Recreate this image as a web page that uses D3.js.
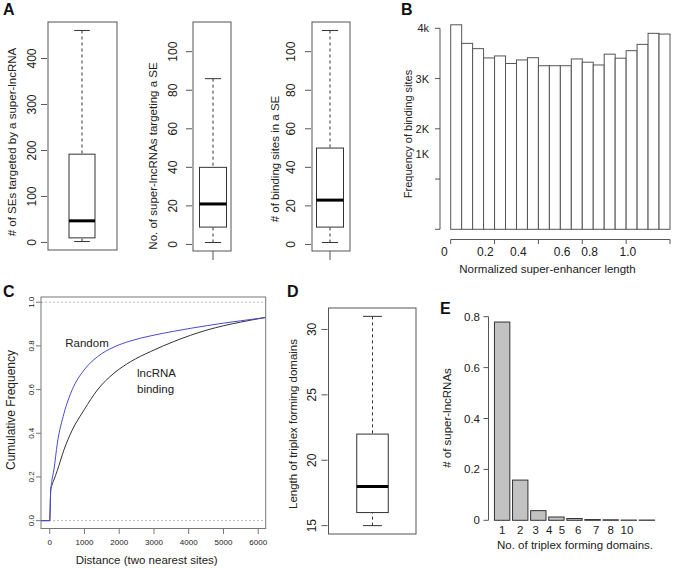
<!DOCTYPE html>
<html>
<head>
<meta charset="utf-8">
<script src="https://cdn.jsdelivr.net/npm/d3@7"></script>
<style>
body { margin: 0; background: #fff; }
text { font-family: "Liberation Sans", Arial, sans-serif; fill: #222; }
</style>
</head>
<body>
<div id="fig"></div>
<script>
// ---- panel A : box stats [low whisker, q1, median, q3, high whisker]
var boxSEs = [2, 10, 47, 192, 461];
var boxLncs = [1, 9, 21, 40, 86];
var boxSites = [1, 9, 23, 50, 111];
var ticksA1 = [0, 100, 200, 300, 400];
var ticksA23 = [0, 20, 40, 60, 80, 100];

// ---- panel B : histogram of binding sites
var histB = [4070, 3700, 3595, 3410, 3450, 3300, 3370, 3415, 3255, 3255,
             3255, 3390, 3325, 3270, 3485, 3405, 3555, 3680, 3900, 3885];
var binWidthB = 0.06;
var ticksBy = [0, 1000, 2000, 3000, 4000];
var labelsBy = ["1K", "2K", "3K", "4k"];
var labelsByAt = [1500, 2000, 3000, 4000];
var ticksBx = [0, 0.24, 0.48, 0.72, 0.96, 1.2];
var labelsBx = ["0", "0.2", "0.4", "0.6", "0.8", "1.0"];
var labelsBxAt = [-0.035, 0.19, 0.37, 0.61, 0.76, 0.97];

// ---- panel C : cumulative frequency
var distC = [-250, 0, 30, 60, 120, 220, 410, 650, 990, 1370, 1850, 2330, 2900, 3570, 4530, 5490, 6210];
var randomC = [0, 0, 0.14, 0.18, 0.232, 0.354, 0.49, 0.60, 0.69, 0.75, 0.795, 0.823, 0.846, 0.867, 0.893, 0.915, 0.93];
var bindingC = [0, 0, 0.14, 0.16, 0.186, 0.23, 0.324, 0.415, 0.507, 0.598, 0.675, 0.728, 0.774, 0.82, 0.873, 0.909, 0.93];
var ticksCx = [0, 1000, 2000, 3000, 4000, 5000, 6000];
var ticksCy = [0, 0.2, 0.4, 0.6, 0.8, 1.0];

// ---- panel D
var boxTFD = [15, 16, 18, 22, 31];
var ticksD = [15, 20, 25, 30];

// ---- panel E
var catsE = [1, 2, 3, 4, 5, 6, 7, 8, 9];
var fracE = [0.779, 0.158, 0.038, 0.013, 0.007, 0.003, 0.002, 0.001, 0.001];
var labelsE = ["1", "2", "3", "4", "5", "6", "7", "8", "10"];
var labelsEAt = [0, 1, 1.85, 2.6, 3.3, 4.2, 5.2, 6, 6.9];
var ticksEy = [0, 0.2, 0.4, 0.6, 0.8];

var W = 677, H = 569;
var svg = d3.select("#fig").append("svg").attr("width", W).attr("height", H);

function letter(t, x, y) {
    svg.append("text").attr("x", x).attr("y", y).style("font-size", "16px")
        .style("font-weight", "bold").style("fill", "#111").text(t);
}

function ylab(t, x, y, size) {
    svg.append("text").attr("transform", "translate(" + x + "," + y + ") rotate(-90)")
        .attr("text-anchor", "middle").attr("dominant-baseline", "central")
        .style("font-size", size + "px").text(t);
}

// R style boxplot inside a frame
function boxPanel(st, y, fx0, fx1, cx, bw, ticks, tx, labx, lab, laby, tail) {
    var g = svg.append("g");
    var r = y.range();
    g.append("rect").attr("x", fx0).attr("y", r[1]).attr("width", fx1 - fx0).attr("height", r[0] - r[1])
        .attr("fill", "none").attr("stroke", "#555");
    if (tail) {
        g.append("line").attr("x1", cx).attr("x2", cx).attr("y1", r[0]).attr("y2", r[0] + 9).attr("stroke", "#555");
    }
    // whiskers
    g.append("line").attr("x1", cx).attr("x2", cx).attr("y1", y(st[4])).attr("y2", y(st[3]))
        .attr("stroke", "#333").attr("stroke-dasharray", "3,3");
    g.append("line").attr("x1", cx).attr("x2", cx).attr("y1", y(st[0])).attr("y2", y(st[1]))
        .attr("stroke", "#333").attr("stroke-dasharray", "3,3");
    [st[0], st[4]].forEach(function(v) {
        g.append("line").attr("x1", cx - bw * 0.3).attr("x2", cx + bw * 0.3)
            .attr("y1", y(v)).attr("y2", y(v)).attr("stroke", "#333");
    });
    g.append("rect").attr("x", cx - bw / 2).attr("y", y(st[3])).attr("width", bw)
        .attr("height", y(st[1]) - y(st[3])).attr("fill", "#fff").attr("stroke", "#333");
    g.append("line").attr("x1", cx - bw / 2).attr("x2", cx + bw / 2).attr("y1", y(st[2])).attr("y2", y(st[2]))
        .attr("stroke", "#000").attr("stroke-width", 3);
    // y ticks
    ticks.forEach(function(v) {
        g.append("line").attr("x1", fx0 - 7).attr("x2", fx0 - 1).attr("y1", y(v)).attr("y2", y(v)).attr("stroke", "#555");
        g.append("text").attr("transform", "translate(" + tx + "," + y(v) + ") rotate(-90)")
            .attr("text-anchor", "middle").attr("dominant-baseline", "central")
            .style("font-size", "12px").text(v);
    });
    ylab(lab, labx, laby, 11.5);
}

// ================= A
letter("A", 3, 15);
var yA1 = d3.scaleLinear().domain([-16.4, 479.4]).range([250, 22]);
boxPanel(boxSEs, yA1, 48, 117, 82, 26, ticksA1, 32, 12,
    "# of SEs targeted by a super-lncRNA", 142, false);
var yA2 = d3.scaleLinear().domain([-3.4, 115.4]).range([251, 22]);
boxPanel(boxLncs, yA2, 193, 231, 213, 27, ticksA23, 173, 153,
    "No. of super-lncRNAs targeting a SE", 156, true);
var yA3 = d3.scaleLinear().domain([-3.4, 115.4]).range([251, 22]);
boxPanel(boxSites, yA3, 312, 350, 330, 27, ticksA23, 291, 275,
    "# of binding sites in a SE", 159, true);

// ================= B
letter("B", 401, 15);
var xB = d3.scaleLinear().domain([0, 1.2]).range([450.7, 670]);
var yB = d3.scaleLinear().domain([0, 4000]).range([229.3, 28.3]);
svg.append("g").selectAll("rect").data(histB).enter().append("rect")
    .attr("x", function(d, i) { return xB(i * binWidthB); })
    .attr("y", function(d) { return yB(d); })
    .attr("width", xB(binWidthB) - xB(0))
    .attr("height", function(d) { return yB(0) - yB(d); })
    .attr("fill", "#fff").attr("stroke", "#555");
svg.append("line").attr("x1", 440).attr("x2", 440).attr("y1", yB(0)).attr("y2", yB(4000)).attr("stroke", "#555");
ticksBy.forEach(function(v) {
    svg.append("line").attr("x1", 435).attr("x2", 440).attr("y1", yB(v)).attr("y2", yB(v)).attr("stroke", "#555");
});
labelsBy.forEach(function(t, i) {
    svg.append("text").attr("x", 429).attr("y", yB(labelsByAt[i])).attr("text-anchor", "end")
        .attr("dominant-baseline", "central").style("font-size", "11px").text(t);
});
svg.append("line").attr("x1", xB(0)).attr("x2", xB(1.2)).attr("y1", 239.5).attr("y2", 239.5).attr("stroke", "#555");
ticksBx.forEach(function(v) {
    svg.append("line").attr("x1", xB(v)).attr("x2", xB(v)).attr("y1", 239.5).attr("y2", 244).attr("stroke", "#555");
});
labelsBx.forEach(function(t, i) {
    svg.append("text").attr("x", xB(labelsBxAt[i])).attr("y", 252).attr("text-anchor", "middle")
        .attr("dominant-baseline", "central").style("font-size", "12px").text(t);
});
ylab("Frequency of binding sites", 408, 134, 11);
svg.append("text").attr("x", 547.5).attr("y", 269).attr("text-anchor", "middle")
    .attr("dominant-baseline", "central").style("font-size", "11.5px").text("Normalized super-enhancer length");

// ================= C
letter("C", 3, 297);
var xC = d3.scaleLinear().domain([-250, 6215]).range([41, 265.7]);
var yC = d3.scaleLinear().domain([-0.036, 1.024]).range([528.5, 297]);
[0, 1].forEach(function(v) {
    svg.append("line").attr("x1", xC(-250)).attr("x2", xC(6215)).attr("y1", yC(v)).attr("y2", yC(v))
        .attr("stroke", "#bbb").attr("stroke-dasharray", "2,2");
});
var lineC = d3.line().x(function(d) { return xC(d[0]); }).y(function(d) { return yC(d[1]); })
    .curve(d3.curveMonotoneX);
svg.append("path").datum(distC.map(function(d, i) { return [d, bindingC[i]]; }))
    .attr("d", lineC).attr("fill", "none").attr("stroke", "#333").attr("stroke-width", 1);
svg.append("path").datum(distC.map(function(d, i) { return [d, randomC[i]]; }))
    .attr("d", lineC).attr("fill", "none").attr("stroke", "#4a4ad0").attr("stroke-width", 1);
svg.append("rect").attr("x", 41).attr("y", 297).attr("width", 265.7 - 41).attr("height", 528.5 - 297)
    .attr("fill", "none").attr("stroke", "#777");
ticksCx.forEach(function(v) {
    svg.append("line").attr("x1", xC(v)).attr("x2", xC(v)).attr("y1", 529).attr("y2", 534).attr("stroke", "#777");
    svg.append("text").attr("x", xC(v)).attr("y", 542.5).attr("text-anchor", "middle")
        .attr("dominant-baseline", "central").style("font-size", "8px").text(v);
});
ticksCy.forEach(function(v) {
    svg.append("line").attr("x1", 36).attr("x2", 41).attr("y1", yC(v)).attr("y2", yC(v)).attr("stroke", "#777");
    svg.append("text").attr("transform", "translate(31," + yC(v) + ") rotate(-90)")
        .attr("text-anchor", "middle").attr("dominant-baseline", "central")
        .style("font-size", "8px").text(d3.format(".1f")(v));
});
ylab("Cumulative Frequency", 11, 410, 12);
svg.append("text").attr("x", 146.7).attr("y", 560).attr("text-anchor", "middle")
    .attr("dominant-baseline", "central").style("font-size", "11.5px").text("Distance (two nearest sites)");
svg.append("text").attr("x", 87).attr("y", 343).attr("text-anchor", "middle")
    .attr("dominant-baseline", "central").style("font-size", "11.5px").text("Random");
svg.append("text").attr("x", 137).attr("y", 373).attr("dominant-baseline", "central")
    .style("font-size", "11.5px").text("lncRNA");
svg.append("text").attr("x", 137).attr("y", 388.5).attr("dominant-baseline", "central")
    .style("font-size", "11.5px").text("binding");

// ================= D
letter("D", 287, 297);
var yD = d3.scaleLinear().domain([14.36, 31.64]).range([534, 308]);
boxPanel(boxTFD, yD, 328.5, 416, 372.5, 31.5, ticksD, 312, 293,
    "Length of triplex forming domains", 424, false);

// ================= E
letter("E", 440, 314);
var xE = d3.scaleBand().domain(catsE).range([493, 656]).paddingInner(0.15).paddingOuter(0.08);
var yE = d3.scaleLinear().domain([0, 0.8]).range([520.3, 316.7]);
svg.append("g").selectAll("rect").data(fracE).enter().append("rect")
    .attr("x", function(d, i) { return xE(catsE[i]); })
    .attr("y", function(d) { return yE(d); })
    .attr("width", xE.bandwidth())
    .attr("height", function(d) { return yE(0) - yE(d); })
    .attr("fill", "#c2c2c2").attr("stroke", "#333");
svg.append("line").attr("x1", 488.5).attr("x2", 488.5).attr("y1", yE(0)).attr("y2", yE(0.8)).attr("stroke", "#555");
ticksEy.forEach(function(v) {
    svg.append("line").attr("x1", 483.5).attr("x2", 488.5).attr("y1", yE(v)).attr("y2", yE(v)).attr("stroke", "#555");
    svg.append("text").attr("x", 480).attr("y", yE(v)).attr("text-anchor", "end")
        .attr("dominant-baseline", "central").style("font-size", "11.5px").text(v === 0 ? "0" : v);
});
var posE = d3.scaleLinear().domain([0, catsE.length - 1])
    .range([xE(catsE[0]) + xE.bandwidth() / 2, xE(catsE[catsE.length - 1]) + xE.bandwidth() / 2]);
labelsE.forEach(function(t, i) {
    svg.append("text").attr("x", posE(labelsEAt[i])).attr("y", 530).attr("text-anchor", "middle")
        .attr("dominant-baseline", "central").style("font-size", "11.5px").text(t);
});
ylab("# of super-lncRNAs", 447, 418, 11.5);
svg.append("text").attr("x", 575).attr("y", 545).attr("text-anchor", "middle")
    .attr("dominant-baseline", "central").style("font-size", "11.5px").text("No. of triplex forming domains.");
</script>
</body>
</html>
